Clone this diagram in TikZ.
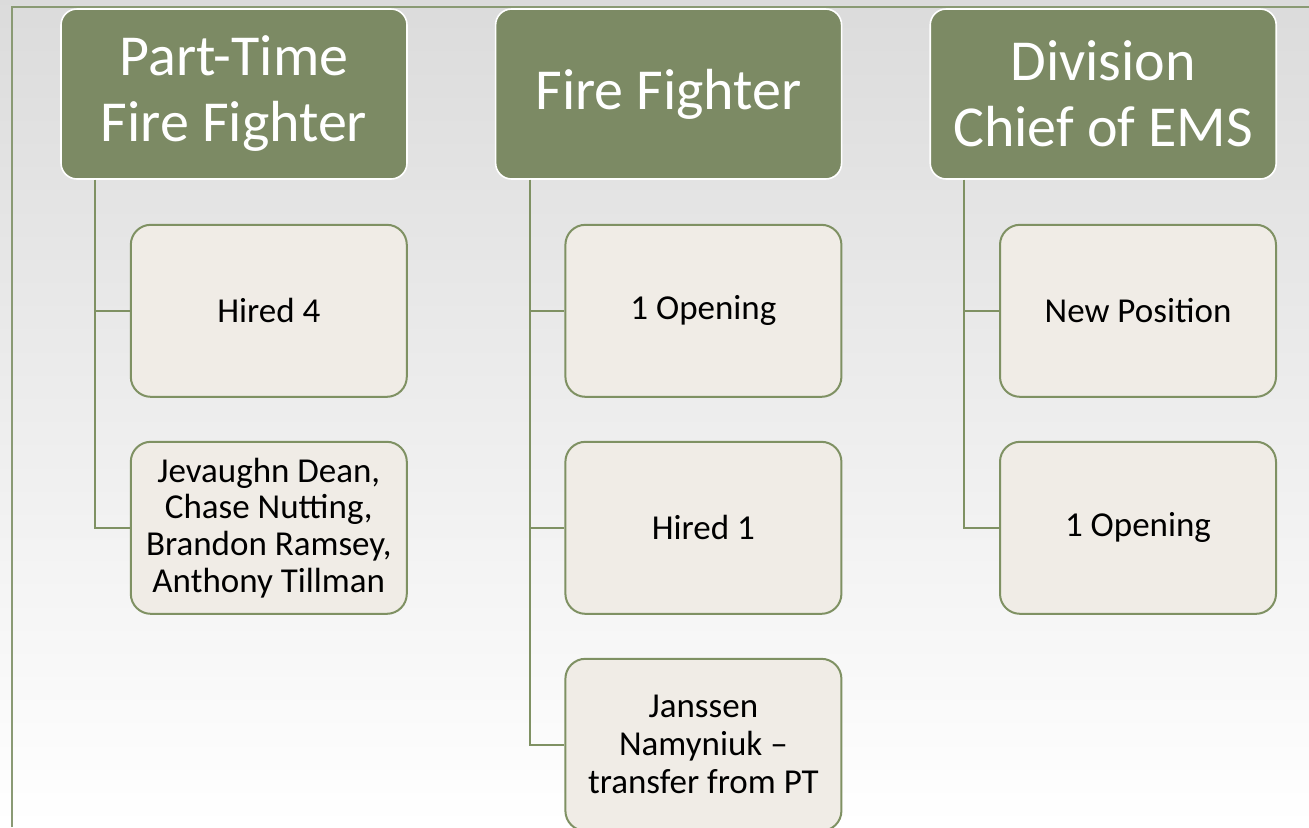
\documentclass[tikz,border=0pt]{standalone}
\usepackage{fontspec}
\setmainfont{Carlito}
\usetikzlibrary{positioning}

\definecolor{hdrgreen}{HTML}{7C8A64}
\definecolor{boxcream}{HTML}{F0ECE6}
\definecolor{lineolive}{HTML}{7F9163}
\definecolor{framegreen}{HTML}{8A9A74}

\tikzset{
    header/.style={draw=white, line width=0.8pt, fill=hdrgreen, rounded corners=8pt,
        minimum width=173pt, minimum height=85pt, inner sep=0pt, align=center,
        text=white, font=\fontsize{29}{33}\selectfont},
    entry/.style={draw=lineolive, line width=1pt, fill=boxcream, rounded corners=10pt,
        minimum width=138pt, minimum height=86pt, inner sep=0pt, align=center,
        font=\fontsize{17.5}{19}\selectfont},
    tight/.style={font=\fontsize{17.5}{18.3}\selectfont},
    link/.style={draw=lineolive, line width=1pt}
}

\begin{document}
\begin{tikzpicture}
    % Background and frame
    \useasboundingbox (0,0) rectangle (654.5pt,-413.5pt);
    \shade[top color=black!14, middle color=black!5, bottom color=white]
        (0,0) rectangle (654.5pt,-413.5pt);
    \draw[framegreen, line width=1pt] (6pt,-413.5pt) -- (6pt,-3.5pt) -- (654.5pt,-3.5pt);

    % Column headers
    \node[header] (pt) at (117pt,-47pt) {Part-Time\\Fire Fighter};
    \node[header, right=43.5pt of pt] (ff) {Fire Fighter};
    \node[header, right=43.5pt of ff] (dc) {Division\\Chief of EMS};

    % Part-time entries
    \node[entry, below left=22pt and 0pt of pt.south east] (pt1) {Hired 4};
    \node[entry, tight, below=21.5pt of pt1] (pt2) {Jevaughn Dean,\\Chase Nutting,\\Brandon Ramsey,\\Anthony Tillman};

    % Fire fighter entries
    \node[entry, below left=22pt and 0pt of ff.south east] (ff1) {1 Opening};
    \node[entry, below=21.5pt of ff1] (ff2) {Hired 1};
    \node[entry, below=21.5pt of ff2] (ff3) {Janssen\\Namyniuk –\\transfer from PT};

    % Division chief entries
    \node[entry, below left=22pt and 0pt of dc.south east] (dc1) {New Position};
    \node[entry, below=21.5pt of dc1] (dc2) {1 Opening};

    % Connectors
    \coordinate (ptt) at ([xshift=17.5pt]pt.south west);
    \coordinate (fft) at ([xshift=17.5pt]ff.south west);
    \coordinate (dct) at ([xshift=17.5pt]dc.south west);
    \draw[link] (ptt) |- (pt1.west);
    \draw[link] (ptt) |- (pt2.west);
    \draw[link] (fft) |- (ff1.west);
    \draw[link] (fft) |- (ff2.west);
    \draw[link] (fft) |- (ff3.west);
    \draw[link] (dct) |- (dc1.west);
    \draw[link] (dct) |- (dc2.west);
\end{tikzpicture}
\end{document}
